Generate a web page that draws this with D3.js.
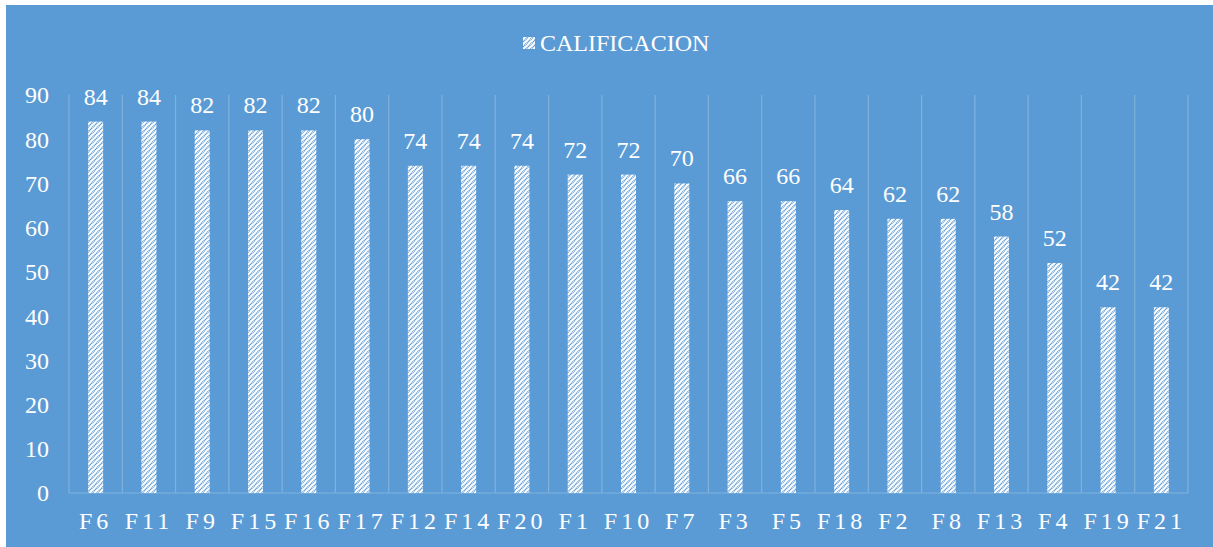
<!DOCTYPE html>
<html>
<head>
<meta charset="utf-8">
<script src="https://cdn.jsdelivr.net/npm/d3@7"></script>
<style>
  body { margin: 0; background: #fff; }
  text { font-family: "Liberation Serif", "Times New Roman", serif; fill: #fff; }
</style>
</head>
<body>
<div id="chart"></div>
<script>
// data
var categories = ["F6", "F11", "F9", "F15", "F16", "F17", "F12", "F14", "F20", "F1", "F10", "F7", "F3", "F5", "F18", "F2", "F8", "F13", "F4", "F19", "F21"]
var values = [84, 84, 82, 82, 82, 80, 74, 74, 74, 72, 72, 70, 66, 66, 64, 62, 62, 58, 52, 42, 42]
var yTicks = [0, 10, 20, 30, 40, 50, 60, 70, 80, 90]
var seriesName = "CALIFICACION"

var width = 1213, height = 547
var bg = "#5b9bd5"

var svg = d3.select("#chart").append("svg")
    .attr("width", width)
    .attr("height", height)

// hatch pattern
var defs = svg.append("defs")
var pat = defs.append("pattern")
    .attr("id", "hatch")
    .attr("patternUnits", "userSpaceOnUse")
    .attr("width", 5)
    .attr("height", 5)
pat.append("rect").attr("width", 5).attr("height", 5).attr("fill", "#fff")
pat.append("path")
    .attr("d", "M0,5 L5,0 M-1,1 L1,-1 M4,6 L6,4")
    .attr("stroke", bg)
    .attr("stroke-width", 1.7)
    .attr("stroke-dasharray", "1.2,0.6")

svg.append("rect")
    .attr("x", 6).attr("y", 5)
    .attr("width", width - 6).attr("height", height - 5)
    .attr("fill", bg)

var x0 = 69, x1 = 1188
var y = d3.scaleLinear()
    .domain([0, 90])
    .range([493, 95])

var x = d3.scaleBand()
    .domain(categories)
    .range([x0, x1])

var gridColor = "#80b1dd"

// vertical grid at category boundaries
var bounds = categories.map(c => x(c))
bounds.push(x1)
svg.append("g").selectAll("line")
    .data(bounds)
    .join("line")
    .attr("x1", d => d).attr("x2", d => d)
    .attr("y1", y(90)).attr("y2", y(0))
    .attr("stroke", gridColor)
    .attr("stroke-width", 1.2)

// bottom axis line
svg.append("line")
    .attr("x1", x0).attr("x2", x1)
    .attr("y1", y(0)).attr("y2", y(0))
    .attr("stroke", gridColor)
    .attr("stroke-width", 1.2)

// y tick labels
svg.append("g").selectAll("text")
    .data(yTicks)
    .join("text")
    .attr("x", 49)
    .attr("y", d => y(d))
    .attr("dy", "0.35em")
    .attr("text-anchor", "end")
    .attr("font-size", 24)
    .text(d => d)

// x labels
var catCenter = c => x(c) + x.bandwidth() / 2
svg.append("g").selectAll("text")
    .data(categories)
    .join("text")
    .attr("x", d => catCenter(d))
    .attr("y", 529)
    .attr("text-anchor", "middle")
    .attr("font-size", 24)
    .attr("letter-spacing", 4)
    .text(d => d)

// bars
var barW = 15
svg.append("g").selectAll("rect")
    .data(values)
    .join("rect")
    .attr("x", (d, i) => catCenter(categories[i]) - barW / 2)
    .attr("y", d => y(d))
    .attr("width", barW)
    .attr("height", d => y(0) - y(d))
    .attr("fill", "url(#hatch)")

// data labels
svg.append("g").selectAll("text")
    .data(values)
    .join("text")
    .attr("x", (d, i) => catCenter(categories[i]))
    .attr("y", d => y(d) - 17)
    .attr("text-anchor", "middle")
    .attr("font-size", 24)
    .text(d => d)

// legend
var lg = svg.append("g").attr("transform", "translate(523,37)")
lg.append("rect")
    .attr("width", 12).attr("height", 12)
    .attr("fill", "url(#hatch)")
lg.append("text")
    .attr("x", 17)
    .attr("y", 14)
    .attr("font-size", 24)
    .text(seriesName)
</script>
</body>
</html>
